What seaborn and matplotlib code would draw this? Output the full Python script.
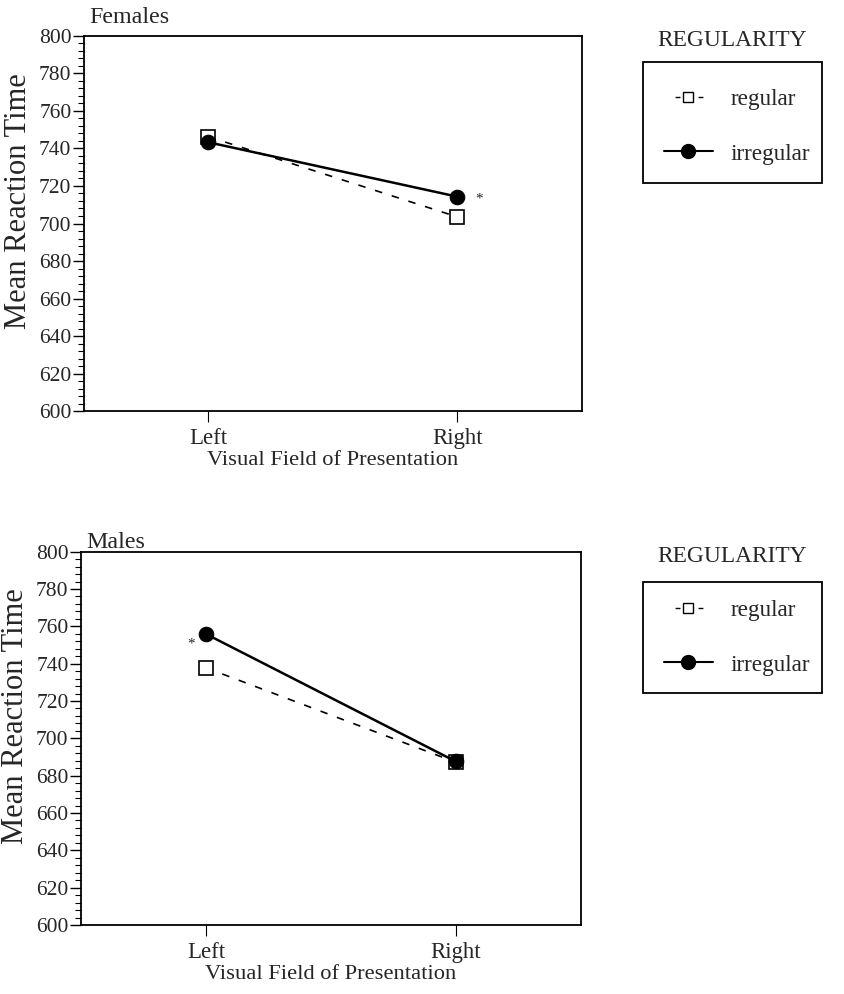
import matplotlib
matplotlib.use("Agg")
import matplotlib.pyplot as plt
from matplotlib.lines import Line2D
from matplotlib.patches import Rectangle
from matplotlib.ticker import MultipleLocator
import seaborn as sns

sns.set_theme(style="white")
plt.rcParams["font.family"] = ["Liberation Serif", "DejaVu Serif"]

# Visual field categories
fields = ["Left", "Right"]

# Mean reaction times (ms)
female_regular = [746.3, 703.5]
female_irregular = [743.3, 714.3]
male_regular = [737.8, 687.2]
male_irregular = [755.9, 687.6]

series_labels = ["regular", "irregular"]
legend_title = "REGULARITY"

# significance stars: (field position, reaction time)
female_star = (1.085, 713.0)
male_star = (-0.06, 750.5)

fig = plt.figure(figsize=(8.44, 9.94), dpi=100)
ax_f = fig.add_axes([0.0995, 0.5865, 0.590, 0.3773])
ax_m = fig.add_axes([0.0960, 0.0694, 0.592, 0.3756])

dash = (0, (4.5, 6))


def draw_panel(ax, regular, irregular, title, star, title_pad):
    sns.lineplot(x=fields, y=regular, ax=ax, color="black", lw=1.2,
                 linestyle=dash, marker="s", markersize=9.5,
                 markerfacecolor="white", markeredgecolor="black",
                 markeredgewidth=1.2, sort=False)
    sns.lineplot(x=fields, y=irregular, ax=ax, color="black", lw=1.8,
                 linestyle="-", marker="o", markersize=10.5,
                 markerfacecolor="black", markeredgecolor="black", sort=False)
    ax.set_xlim(-0.5, 1.5)
    ax.set_ylim(600, 800)
    ax.yaxis.set_major_locator(MultipleLocator(20))
    ax.yaxis.set_minor_locator(MultipleLocator(4))
    ax.tick_params(axis="y", which="major", direction="out", length=8,
                   width=1, color="black", labelsize=15.5, pad=1, left=True)
    ax.tick_params(axis="y", which="minor", direction="out", length=4,
                   width=0.8, color="black", left=True)
    ax.tick_params(axis="x", which="major", direction="out", length=8,
                   width=0.8, color="black", labelsize=16.4, pad=4, bottom=True)
    for sp in ax.spines.values():
        sp.set_visible(True)
        sp.set_color("black")
        sp.set_linewidth(1.3)
    ax.set_xlabel("Visual Field of Presentation", fontsize=16.2, labelpad=2)
    ax.set_ylabel("Mean Reaction Time", fontsize=22, labelpad=4, y=0.56)
    ax.set_title(title, loc="left", fontsize=17.3, pad=title_pad, x=0.01)
    ax.text(star[0], star[1], "*", fontsize=11, ha="center", va="center")
    ax.grid(False)


draw_panel(ax_f, female_regular, female_irregular, "Females", female_star, 9)
draw_panel(ax_m, male_regular, male_irregular, "Males", male_star, 3)

# short dash on either side of the square, then blank
handle_dash = (86.0, (3.5, 13.0, 3.5, 74.0))
handles = [
    Line2D([], [], color="black", lw=1.0, linestyle=handle_dash,
           marker="s", markersize=7, markerfacecolor="white",
           markeredgecolor="black", markeredgewidth=1.0),
    Line2D([], [], color="black", lw=1.5, linestyle="-", marker="o",
           markersize=10, markerfacecolor="black"),
]

# legend boxes (figure pixel layout 844 x 994)
for box_top, box_bottom, title_y, shift in [(62, 183, 41, 4), (582, 693, 557, 0)]:
    x0, x1 = 643 / 844, 822 / 844
    y0, y1 = 1 - box_bottom / 994, 1 - box_top / 994
    fig.patches.append(Rectangle((x0, y0), x1 - x0, y1 - y0,
                                 transform=fig.transFigure, fill=False,
                                 edgecolor="black", lw=1.3))
    fig.text(732 / 844, 1 - title_y / 994, legend_title, ha="center",
             va="center", fontsize=16.8)
    fig.legend(handles, series_labels, loc="center left",
               bbox_to_anchor=(664 / 844, y0 - shift / 994, 0.1, y1 - y0),
               frameon=False, fontsize=16.7, handlelength=2.1,
               handletextpad=0.75, labelspacing=1.45, borderaxespad=0,
               borderpad=0)

fig.savefig("out.png", dpi=100)
